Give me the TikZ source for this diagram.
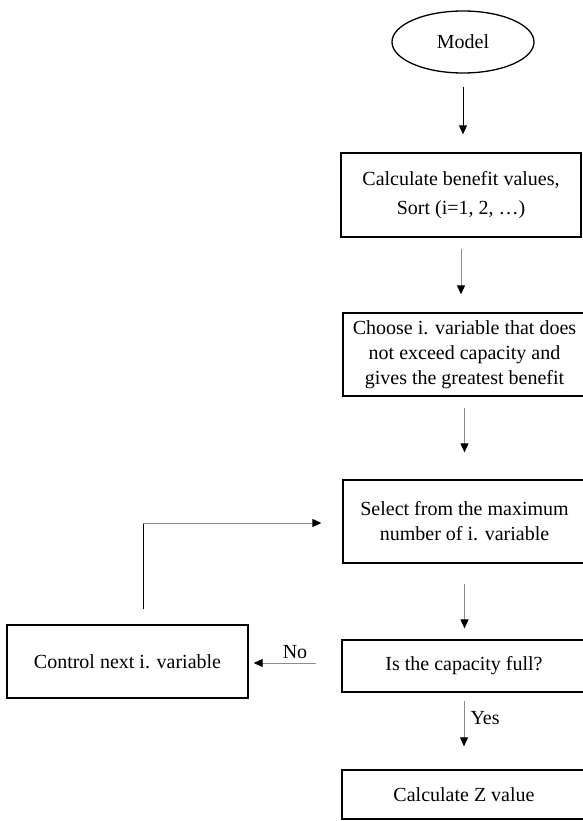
\documentclass[tikz,border=0pt]{standalone}
\usepackage{fontspec}
\setmainfont{Liberation Serif}
\usetikzlibrary{shapes.geometric,arrows.meta}

\begin{document}
\begin{tikzpicture}[x=1pt,y=-1pt,
    lbl/.style={inner sep=0pt,font=\fontsize{20}{25}\selectfont},
    box/.style={lbl,draw,line width=1.3pt,align=center},
    flow/.style={draw=black!45,line width=1pt,-{Triangle[length=9pt,width=8pt,color=black]}}]
  \useasboundingbox[fill=white] (0,0) rectangle (582,821);
  \node[box,ellipse,minimum width=142pt,minimum height=62pt] (model) at (463,42) {Model};
  \node[box,minimum width=240pt,minimum height=84pt] (sort) at (461,195)
    {Calculate benefit values,\\[4pt] Sort (i=1, 2, …)};
  \node[box,minimum width=243pt,minimum height=83pt] (choose) at (464.5,354.5)
    {Choose i. variable that does\\ not exceed capacity and\\ gives the greatest benefit};
  \node[box,minimum width=243pt,minimum height=83pt] (select) at (464.5,521.5)
    {Select from the maximum\\ number of i. variable};
  \node[box,minimum width=244pt,minimum height=52pt] (check) at (464,666) {Is the capacity full?};
  \node[box,minimum width=244pt,minimum height=49pt] (zvalue) at (464,794.5) {Calculate Z value};
  \node[box,minimum width=241pt,minimum height=73pt] (control) at (127.5,661.5) {Control next i. variable};

  \draw[flow,draw=black,shorten <=13pt,shorten >=18pt] (model.south) -- (model.south |- sort.north);
  \draw[flow,shorten <=11pt,shorten >=18pt] (sort.south) -- (sort.south |- choose.north);
  \draw[flow,shorten <=11pt,shorten >=27pt] (choose.south) -- (choose.south |- select.north);
  \draw[flow,shorten <=20pt,shorten >=11pt] (select.south) -- (select.south |- check.north);
  \draw[flow,shorten <=8pt,shorten >=23pt] (check.south) -- (check.south |- zvalue.north)
    node[lbl,pos=0.33,right=6pt] {Yes};
  \draw[flow,shorten <=25pt,shorten >=5pt] ([yshift=3pt]check.west) -- ([yshift=3pt]check.west -| control.east)
    node[lbl,midway,above=4pt] {No};

  \coordinate (turn) at (143,523);
  \draw[line width=1pt] ([xshift=15.5pt,yshift=15pt]control.north) -- (turn);
  \draw[flow,shorten >=21pt] (turn) -- (turn -| select.west);
\end{tikzpicture}
\end{document}
